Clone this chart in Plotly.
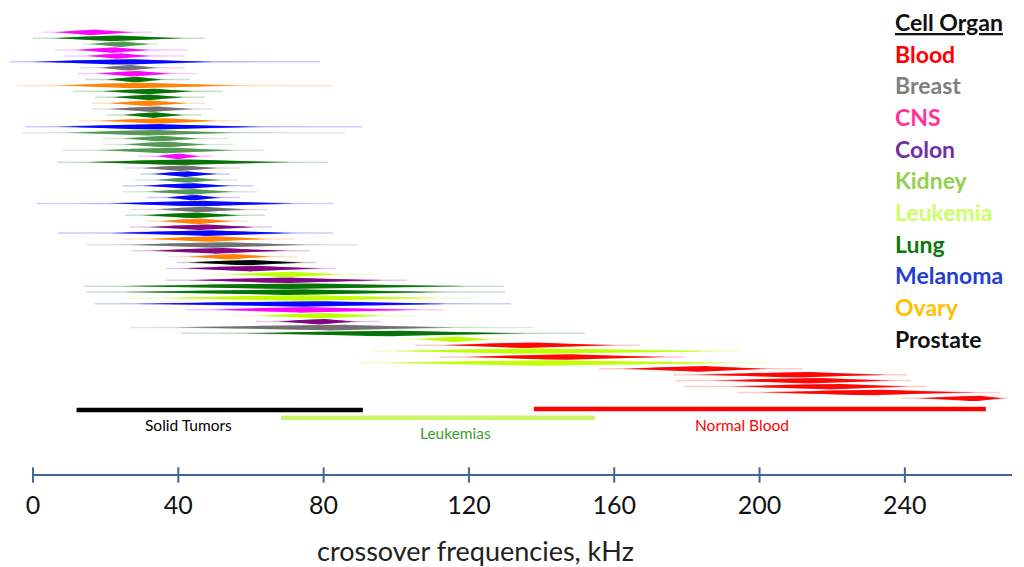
import plotly.graph_objects as go
import numpy as np

# ---------------- data (kHz) ----------------
organ = ["CNS", "Lung", "Kidney", "CNS", "CNS", "Melanoma", "Breast", "CNS", "Lung", "Ovary",
         "Lung", "Lung", "Ovary", "Breast", "Lung", "Ovary", "Melanoma", "Kidney", "Kidney", "Kidney",
         "Kidney", "CNS", "Lung", "Breast", "Melanoma", "Kidney", "Melanoma", "Kidney", "Melanoma", "Melanoma",
         "Breast", "Lung", "Ovary", "Colon", "Melanoma", "Ovary", "Breast", "Colon", "Ovary", "Prostate",
         "Colon", "Leukemia", "Colon", "Lung", "Lung", "Leukemia", "Melanoma", "CNS", "Leukemia", "Colon",
         "Breast", "Lung", "Leukemia", "Blood", "Leukemia", "Blood", "Leukemia", "Blood", "Blood", "Blood",
         "Blood", "Blood", "Blood"]
tail_lo = [2.5, 0.0, 13.5, 6.1, 8.3, -6.3, 12.9, 12.1, 14.3, -4.4,
           11.0, 17.1, 16.2, 16.2, 20.4, 12.4, -2.2, -3.0, 19.0, 19.3,
           8.3, 28.9, 6.6, 25.3, 29.5, 28.1, 24.5, 24.8, 31.4, 1.1,
           26.7, 25.3, 31.4, 26.7, 6.9, 24.8, 14.9, 27.3, 37.2, 39.6,
           36.6, 49.0, 36.6, 14.0, 14.6, 26.7, 17.1, 42.1, 54.5, 61.4,
           26.7, 40.7, 101.6, 105.1, 93.0, 112.0, 90.0, 155.8, 176.2, 177.0,
           179.2, 193.8, 239.2]
core_lo = [6.1, 5.5, 15.7, 12.1, 14.9, 0.0, 18.4, 17.6, 20.4, 6.6,
           19.3, 22.0, 21.2, 21.2, 24.8, 18.4, 6.6, 9.4, 24.8, 24.8,
           18.4, 34.1, 14.9, 30.3, 33.0, 34.1, 30.3, 31.4, 36.9, 21.2,
           34.1, 30.3, 35.0, 32.2, 22.0, 32.2, 26.7, 32.2, 42.9, 42.9,
           41.0, 53.9, 42.9, 24.2, 25.3, 36.1, 28.4, 49.0, 62.5, 67.4,
           38.8, 58.6, 105.7, 113.4, 99.4, 119.2, 96.9, 162.4, 182.2, 188.0,
           192.7, 200.7, 243.9]
peak = [16.2, 21.2, 23.9, 21.7, 23.4, 24.5, 26.1, 27.5, 28.1, 28.1,
        31.7, 31.7, 31.7, 32.8, 33.0, 34.4, 32.2, 32.2, 35.0, 36.3,
        36.3, 39.9, 40.5, 40.5, 41.8, 42.7, 42.7, 43.2, 44.0, 44.6,
        46.0, 44.0, 45.1, 46.0, 47.3, 48.7, 50.1, 50.1, 54.2, 58.4,
        59.7, 69.4, 68.5, 70.7, 70.7, 73.5, 74.9, 73.5, 79.0, 79.0,
        81.8, 96.9, 116.2, 135.4, 136.8, 145.1, 139.6, 183.6, 211.1, 213.9,
        219.4, 230.4, 259.3]
core_hi = [27.5, 41.3, 32.2, 32.2, 32.2, 49.5, 34.1, 37.7, 35.8, 56.2,
           44.0, 41.3, 42.4, 44.0, 41.3, 50.6, 62.5, 55.1, 46.0, 47.9,
           55.1, 46.0, 70.7, 50.6, 50.6, 51.5, 54.2, 55.1, 51.5, 71.6,
           58.9, 57.0, 55.1, 60.6, 71.6, 64.4, 74.9, 69.6, 65.5, 74.3,
           79.3, 84.2, 96.1, 118.6, 112.9, 110.9, 113.7, 106.0, 95.8, 88.9,
           115.6, 135.1, 125.5, 159.9, 189.1, 174.0, 191.6, 202.0, 234.5, 235.9,
           240.6, 259.0, 267.3]
tail_hi = [33.0, 47.3, 34.4, 42.7, 41.8, 79.0, 41.8, 45.1, 43.2, 82.6,
           52.3, 47.3, 47.3, 49.5, 46.5, 57.0, 90.6, 85.9, 53.7, 55.1,
           63.3, 49.5, 81.2, 57.0, 54.2, 56.4, 60.6, 61.7, 57.0, 82.6,
           64.4, 63.9, 58.9, 65.8, 82.6, 72.1, 89.2, 76.0, 72.9, 78.0,
           83.4, 94.1, 102.9, 129.6, 129.9, 120.6, 131.6, 113.1, 104.3, 95.8,
           137.6, 151.9, 130.7, 167.1, 194.9, 179.2, 202.6, 211.9, 240.6, 241.7,
           245.8, 266.2, 268.4]

legend_names = ["Blood", "Breast", "CNS", "Colon", "Kidney", "Leukemia",
                "Lung", "Melanoma", "Ovary", "Prostate"]
legend_text_colors = ["#ff0000", "#7f7f7f", "#ff3399", "#7030a0", "#92d050", "#ccff66",
                      "#0b7a0b", "#1f3fd0", "#ffc000", "#111111"]
mark_colors = {"Blood": "#ff0000", "Breast": "#6e6e6e", "CNS": "#ff00ff", "Colon": "#800080",
               "Kidney": "#4f964f", "Leukemia": "#bfff00", "Lung": "#007000",
               "Melanoma": "#0000ff", "Ovary": "#ff8000", "Prostate": "#000000"}

group_names = ["Solid Tumors", "Leukemias", "Normal Blood"]
group_start = [12.0, 68.3, 137.9]
group_end = [90.8, 154.7, 262.3]
group_bar_colors = ["#000000", "#c8f56a", "#ff0000"]
group_text_colors = ["#000000", "#3aa02a", "#ff0000"]
group_bar_row = [64.0, 65.3, 63.8]
group_label_x = [42.9, 116.2, 195.2]
group_label_row = [66.5, 67.9, 66.5]

tick_vals = [0, 40, 80, 120, 160, 200, 240]
axis_end = 269.5
axis_row = 75.0

FONT = "Lato"


def rgba(h, a):
    h = h.lstrip("#")
    r, g, b = int(h[0:2], 16), int(h[2:4], 16), int(h[4:6], 16)
    return f"rgba({r},{g},{b},{a})"


def lens(i, a, c, b, H, p, n=30):
    xl = np.linspace(a, c, n)
    xr = np.linspace(c, b, n)[1:]
    hl = H * ((xl - a) / max(c - a, 1e-6)) ** p
    hr = H * ((b - xr) / max(b - c, 1e-6)) ** p
    xs = np.concatenate([xl, xr, xr[::-1], xl[::-1]])
    ys = np.concatenate([i - hl, i - hr, (i + hr)[::-1], (i + hl)[::-1]])
    return xs, ys


fig = go.Figure()

for i, org in enumerate(organ):
    col = mark_colors[org]
    # faint tail
    fig.add_trace(go.Scatter(x=[tail_lo[i], tail_hi[i]], y=[i, i], mode="lines",
                             line=dict(color=rgba(col, 0.2), width=1.5),
                             hoverinfo="skip", showlegend=False))
    # outer halo between tail and dense range
    a0 = (tail_lo[i] + core_lo[i]) / 2
    b0 = (tail_hi[i] + core_hi[i]) / 2
    xs, ys = lens(i, a0, peak[i], b0, 0.2, 0.9)
    fig.add_trace(go.Scatter(x=xs, y=ys, mode="lines", fill="toself",
                             fillcolor=rgba(col, 0.22), line=dict(width=0),
                             hoverinfo="skip", showlegend=False))
    # shoulder (dense range, translucent)
    xs, ys = lens(i, core_lo[i], peak[i], core_hi[i], 0.4, 0.55)
    fig.add_trace(go.Scatter(x=xs, y=ys, mode="lines", fill="toself",
                             fillcolor=rgba(col, 0.45), line=dict(width=0),
                             hoverinfo="skip", showlegend=False))
    # core
    a = peak[i] - 0.9 * (peak[i] - core_lo[i])
    b = peak[i] + 0.9 * (core_hi[i] - peak[i])
    xs, ys = lens(i, a, peak[i], b, 0.5, 0.85)
    fig.add_trace(go.Scatter(x=xs, y=ys, mode="lines", fill="toself",
                             fillcolor=rgba(col, 0.95), line=dict(width=0),
                             hoverinfo="skip", showlegend=False))

# group bars
for k, name in enumerate(group_names):
    fig.add_trace(go.Scatter(x=[group_start[k], group_end[k]], y=[group_bar_row[k]] * 2,
                             mode="lines", line=dict(color=group_bar_colors[k], width=4.5),
                             hoverinfo="skip", showlegend=False))
    fig.add_annotation(x=group_label_x[k], y=group_label_row[k], xref="x", yref="y",
                       text=name, showarrow=False,
                       font=dict(family=FONT, size=15.5, color=group_text_colors[k]))

# axis line + crossing ticks
fig.add_trace(go.Scatter(x=[0, axis_end], y=[axis_row, axis_row], mode="lines",
                         line=dict(color="#41679c", width=2), hoverinfo="skip", showlegend=False))
fig.add_trace(go.Scatter(x=tick_vals, y=[axis_row] * len(tick_vals), mode="markers",
                         marker=dict(symbol="line-ns", size=11,
                                     line=dict(color="#41679c", width=2)),
                         hoverinfo="skip", showlegend=False))

# organ list (legend-like)
fig.add_annotation(x=893 / 1024, y=1 - 22 / 567, xref="paper", yref="paper",
                   xanchor="left", yanchor="middle", showarrow=False,
                   text="<b><u>Cell Organ</u></b>",
                   font=dict(family=FONT, size=23, color="#111111"))
for k, name in enumerate(legend_names):
    fig.add_annotation(x=893 / 1024, y=1 - (53.5 + 31.7 * k) / 567, xref="paper", yref="paper",
                       xanchor="left", yanchor="middle", showarrow=False,
                       text=f"<b>{name}</b>",
                       font=dict(family=FONT, size=23, color=legend_text_colors[k]))

fig.add_annotation(x=475 / 1024, y=1 - 550 / 567, xref="paper", yref="paper",
                   xanchor="center", yanchor="middle", showarrow=False,
                   text="crossover frequencies, kHz",
                   font=dict(family=FONT, size=27, color="#222222"))

fig.update_layout(
    width=1024, height=567,
    margin=dict(l=0, r=0, t=0, b=0),
    paper_bgcolor="white", plot_bgcolor="white",
    xaxis=dict(range=[-9.08, 272.8], anchor="free", position=(567 - 475) / 567,
               showgrid=False, zeroline=False, showline=False, ticks="",
               tickvals=tick_vals, ticktext=[str(v) for v in tick_vals],
               tickfont=dict(family=FONT, size=25, color="#111111"),
               ticklabelstandoff=13),
    yaxis=dict(range=[90.58, -5.472], visible=False, showgrid=False, zeroline=False),
)

fig.write_html("out.html", config={"displayModeBar": False},
               post_script="document.body.style.margin='0';document.body.style.overflow='hidden';")
